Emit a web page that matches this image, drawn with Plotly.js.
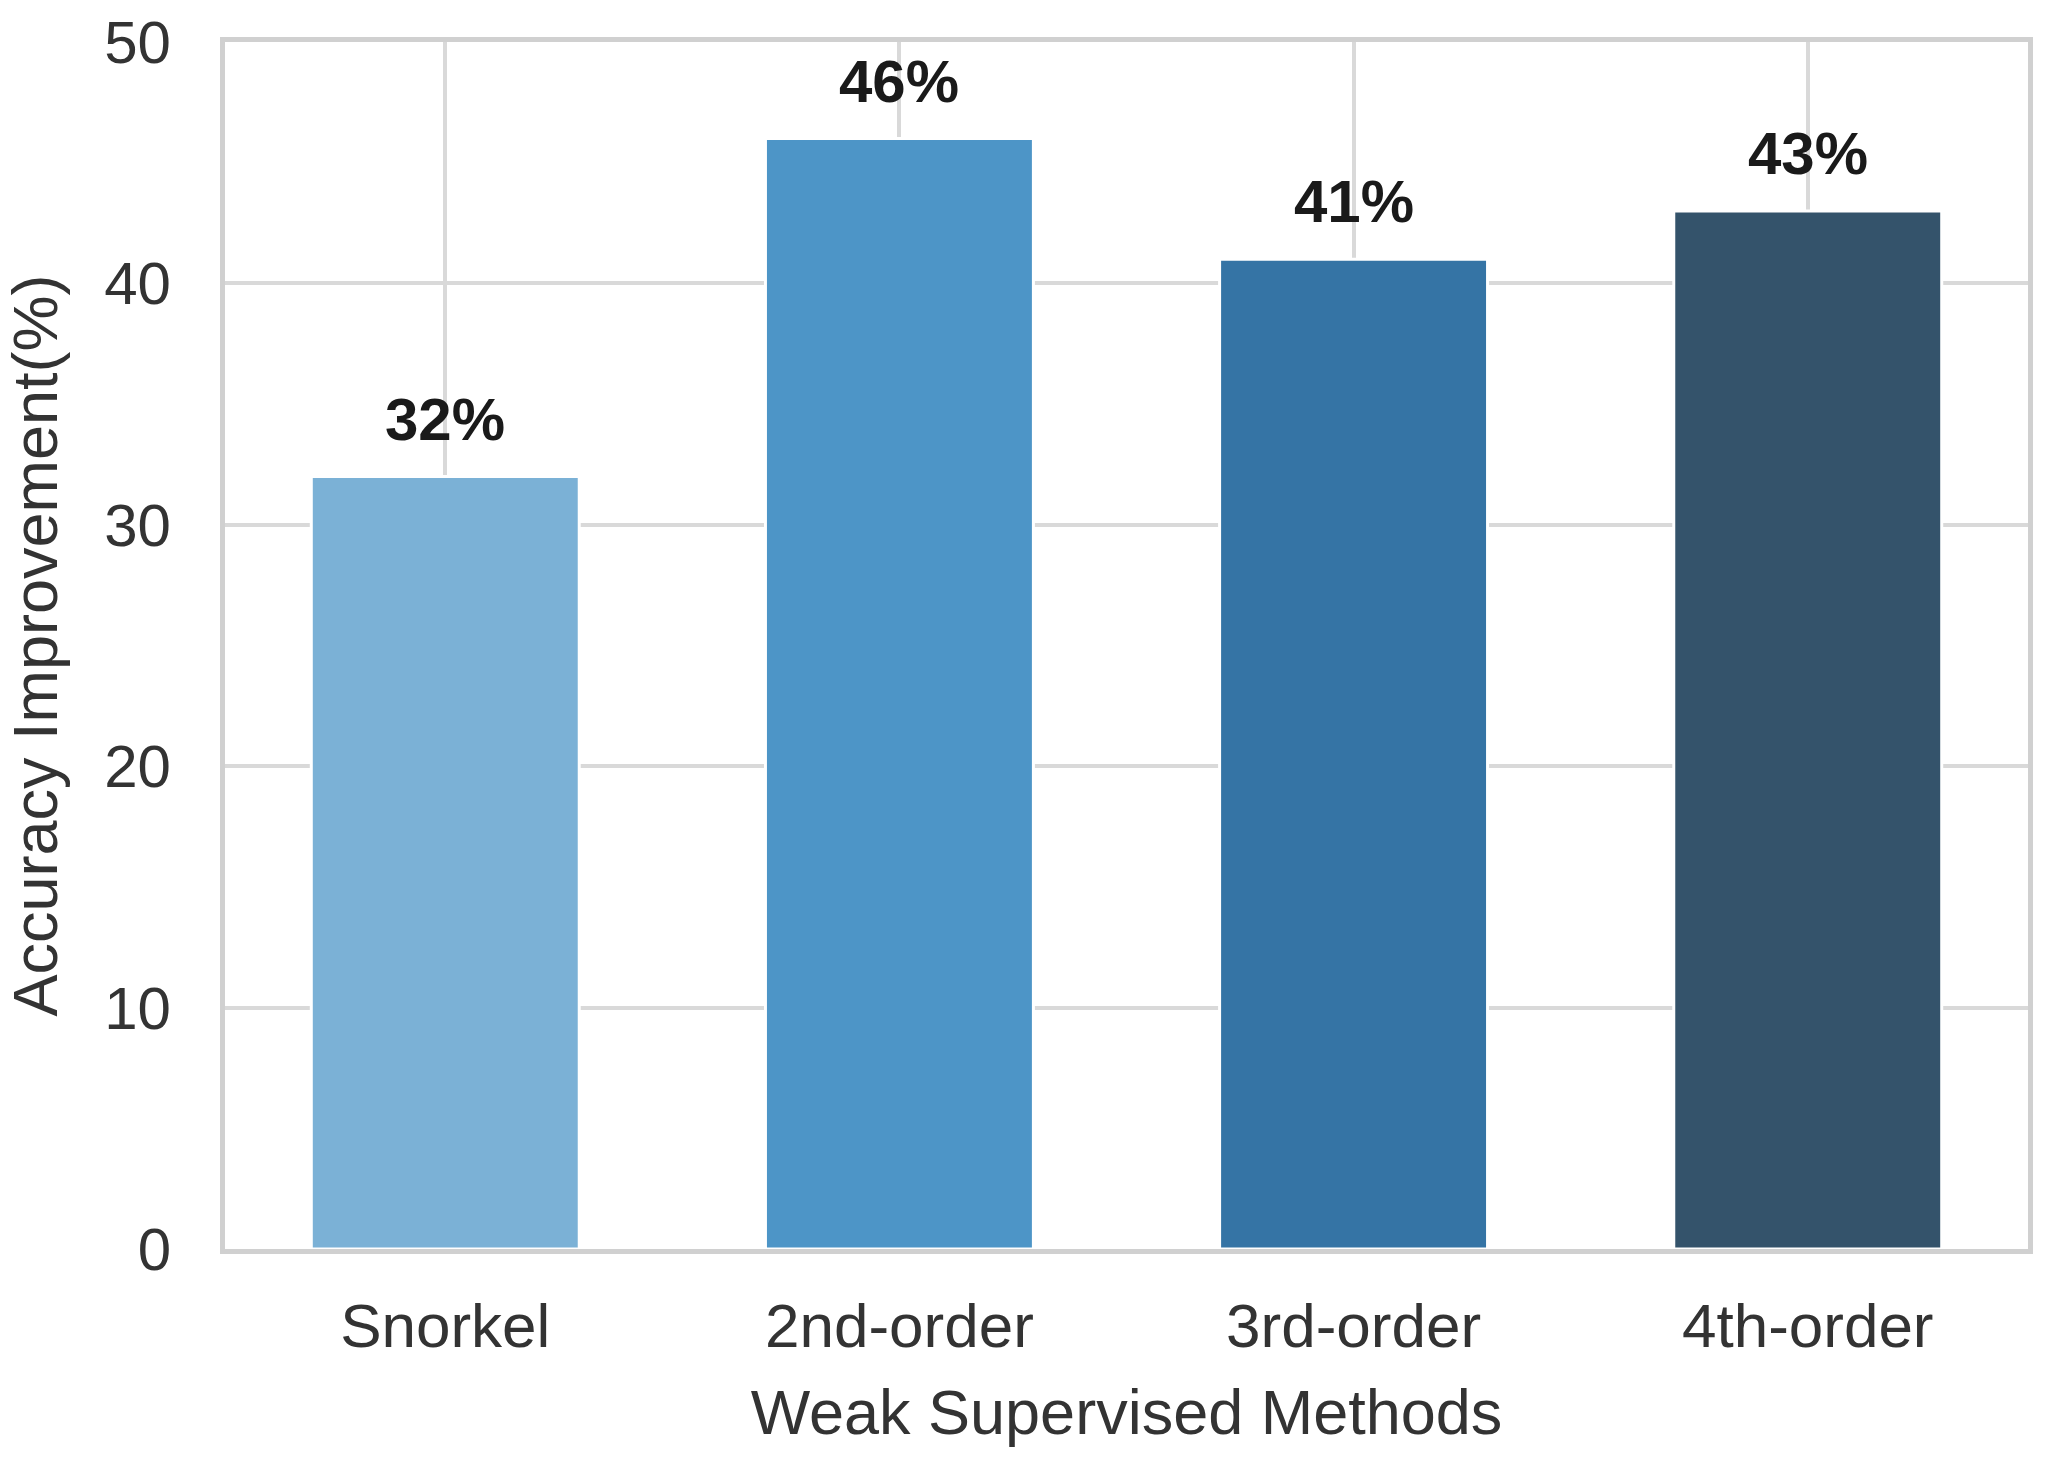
<!DOCTYPE html>
<html>
<head>
<meta charset="utf-8">
<script src="https://cdn.plot.ly/plotly-3.0.1.min.js"></script>
<style>html,body{margin:0;padding:0;background:#fff;}#chart{width:2048px;height:1461px;}</style>
</head>
<body>
<div id="chart"></div>
<script>
const categories = ["Snorkel", "2nd-order", "3rd-order", "4th-order"];
const improvement = [32, 46, 41, 43];
const barColors = ["#7BB1D6", "#4D95C7", "#3574A5", "#34536B"];
const yTicks = [0, 10, 20, 30, 40, 50];

const trace = {
  type: "bar",
  x: categories,
  y: improvement,
  width: 0.59,
  marker: {color: barColors, line: {color: "#ffffff", width: 3}},
  hoverinfo: "x+y"
};

const annotations = categories.map((c, i) => ({
  x: c, y: improvement[i], xref: "x", yref: "y",
  text: improvement[i] + "%",
  showarrow: false, yanchor: "bottom", yshift: 22,
  font: {family: "Liberation Sans, Arial, sans-serif", size: 60, color: "#1a1a1a", weight: "bold"}
}));

const layout = {
  width: 2048, height: 1461,
  margin: {l: 225, r: 20, t: 42, b: 212},
  paper_bgcolor: "#ffffff", plot_bgcolor: "#ffffff",
  showlegend: false,
  font: {family: "Liberation Sans, Arial, sans-serif", color: "#333333"},
  xaxis: {
    range: [-0.485, 3.485],
    showgrid: true, gridcolor: "#d9d9d9", gridwidth: 4,
    showline: true, linecolor: "#d0d0d0", linewidth: 5, mirror: true,
    ticks: "", ticklabelstandoff: 19,
    tickfont: {size: 62, color: "#333333"},
    title: {text: "Weak Supervised Methods", font: {size: 63, color: "#333333"}, standoff: 32}
  },
  yaxis: {
    range: [0, 50], tickvals: yTicks, ticktext: yTicks.map(String),
    showgrid: true, gridcolor: "#d9d9d9", gridwidth: 4,
    zeroline: false,
    showline: true, linecolor: "#d0d0d0", linewidth: 5, mirror: true,
    ticks: "", ticklabelstandoff: 37,
    tickfont: {size: 60, color: "#333333"},
    title: {text: "Accuracy Improvement(%)", font: {size: 63, color: "#333333"}, standoff: 36}
  },
  annotations: annotations
};

Plotly.newPlot("chart", [trace], layout, {displayModeBar: false, staticPlot: true});
</script>
</body>
</html>
